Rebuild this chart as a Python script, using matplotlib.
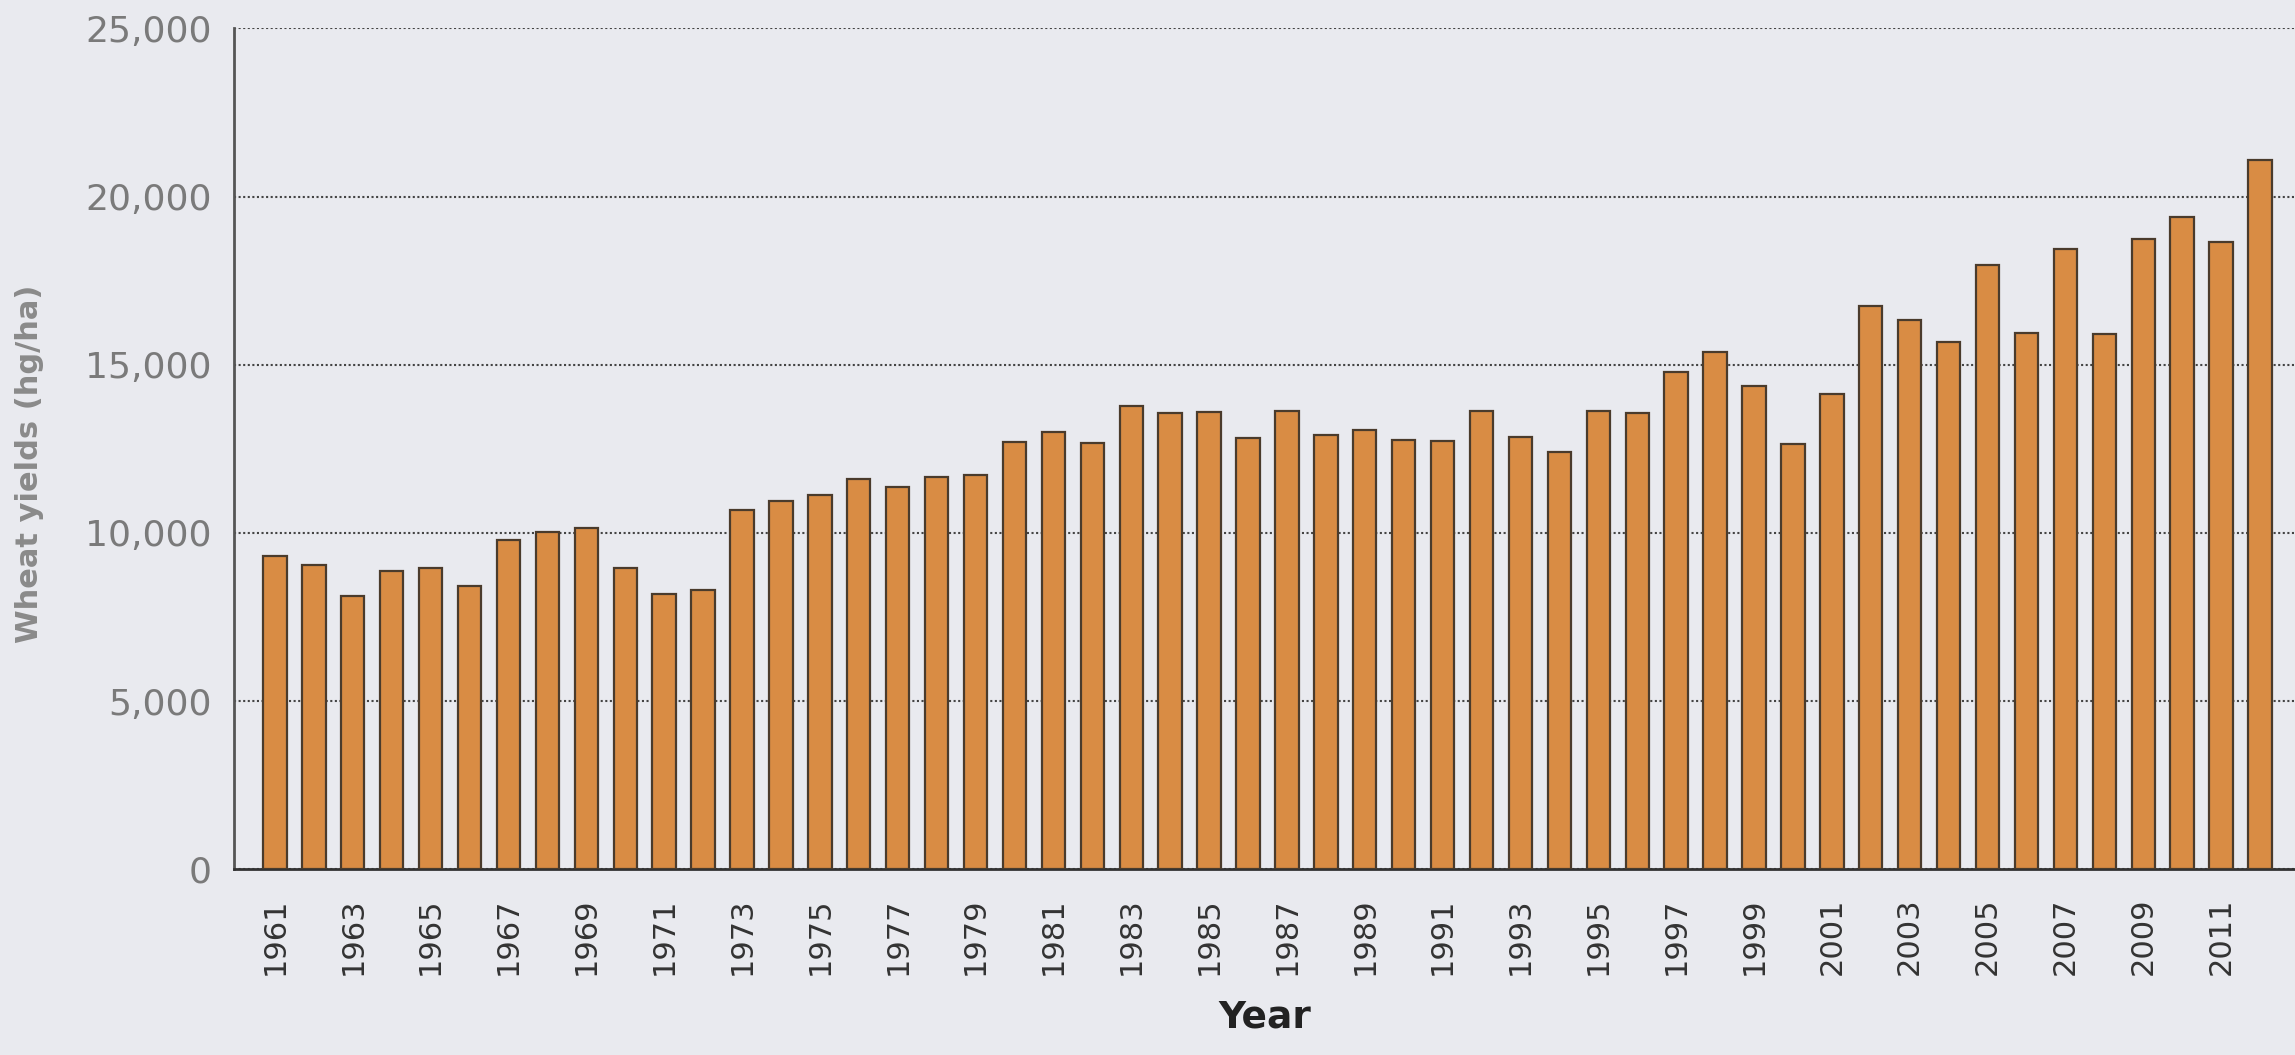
import matplotlib.pyplot as plt
import matplotlib.ticker as ticker

years = list(range(1961, 2013))
yields = [9330, 9050, 8120, 8860, 8970, 8410, 9800, 10020, 10150, 8970,
          8200, 8290, 10670, 10940, 11120, 11600, 11370, 11670, 11730, 12700,
          12990, 12670, 13790, 13570, 13600, 12810, 13640, 12900, 13070, 12750,
          12740, 13640, 12850, 12400, 13620, 13580, 14790, 15390, 14380, 12640,
          14140, 16740, 16320, 15690, 17970, 15960, 18440, 15920, 18750, 19390,
          18650, 21100]
tick_years = years[::2]
y_ticks = [0, 5000, 10000, 15000, 20000, 25000]

bg = '#e9eaef'
fig = plt.figure(figsize=(22.95, 10.55), dpi=100, facecolor=bg)
ax = fig.add_axes([0.102, 0.176, 0.898, 0.797])
ax.set_facecolor(bg)

ax.bar(years, yields, width=0.6, color='#d98c44', edgecolor='#4a3b2c', linewidth=1.6, zorder=3)

ax.set_xlim(1959.95, 2012.9)
ax.set_ylim(0, 25000)
ax.set_yticks(y_ticks)
ax.yaxis.set_major_formatter(ticker.FuncFormatter(lambda v, p: '{:,}'.format(int(v))))
ax.set_xticks(tick_years)
ax.set_xticklabels([str(y) for y in tick_years], rotation=90)

ax.grid(axis='y', color='#444444', linestyle=(0, (1, 1.2)), linewidth=1.5, zorder=1)
ax.tick_params(axis='y', length=0, pad=16, labelsize=26, labelcolor='#7a7a7a')
ax.tick_params(axis='x', length=0, pad=20, labelsize=22, labelcolor='#333333')

for s in ['top', 'right']:
    ax.spines[s].set_visible(False)
ax.spines['left'].set_color('#555555')
ax.spines['left'].set_linewidth(2)
ax.spines['bottom'].set_color('#333333')
ax.spines['bottom'].set_linewidth(2)

ax.set_xlabel('Year', fontsize=27, fontweight='bold', color='#222222', labelpad=18)
fig.text(0.013, 0.56, 'Wheat yields (hg/ha)', rotation=90, fontsize=22,
         fontweight='bold', color='#8a8a8a', ha='center', va='center')

plt.savefig('out.png', dpi=100, facecolor=bg)
